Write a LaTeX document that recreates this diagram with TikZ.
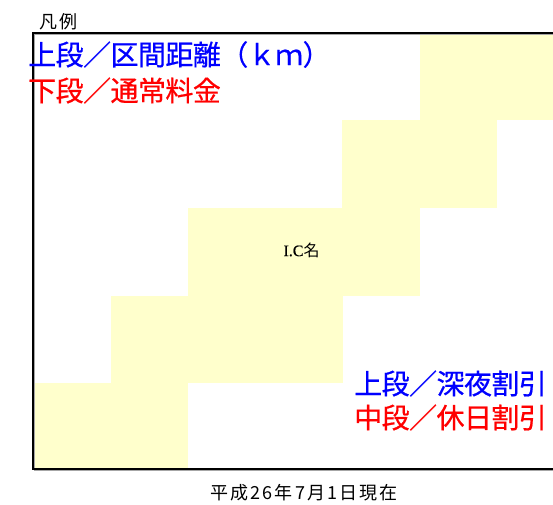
\documentclass[tikz,border=0pt]{standalone}
\usepackage{fontspec}
\newfontfamily\jp[FakeBold=0.6,LetterSpace=-2]{Noto Sans CJK JP}
\newfontfamily\jpsmall[LetterSpace=12]{Noto Sans CJK JP}
\newfontfamily\ser[FakeBold=0.5]{Liberation Serif}
\newfontfamily\jpplain{Noto Sans CJK JP}
\definecolor{cellyellow}{HTML}{FFFFCC}
\definecolor{lblblue}{HTML}{0000FF}
\definecolor{lblred}{HTML}{FF0000}
\tikzset{
  cell/.style={fill=cellyellow},
  frameline/.style={draw=black, line width=1.5pt},
  frameshadow/.style={draw=black!35, line width=1pt},
  biglabel/.style={font=\jp\fontsize{28}{28}\selectfont, inner sep=0pt, anchor=west},
  smalllabel/.style={font=\jpsmall\fontsize{18}{18}\selectfont, inner sep=0pt, text=black},
}
\begin{document}
\begin{tikzpicture}[x=1pt,y=-1pt]
\useasboundingbox (0,0) rectangle (553,504);
% staircase cells
\fill[cell] (420,33) rectangle (553,120);
\fill[cell] (342,120) rectangle (497,207.5);
\fill[cell] (188,207.5) rectangle (420,295.5);
\fill[cell] (111,295.5) rectangle (343,382.5);
\fill[cell] (34,382.5) rectangle (188,469);
% frame
\draw[frameshadow] (553,34.5) -- (34.5,34.5) -- (34.5,470.5) -- (553,470.5);
\draw[frameline] (553,33) -- (33,33) -- (33,469) -- (553,469);
% texts
\node[smalllabel, anchor=west] (legend) at (39,21.5) {凡例};
\node[biglabel, text=lblblue] (upper) at (28,54.5) {上段／区間距離（ｋｍ）};
\node[biglabel, text=lblred] (lower) at (28,90.5) {下段／通常料金};
\node[inner sep=0pt, font=\fontsize{16}{16}\selectfont] (ic) at (301.5,250) {{\ser I.C}{\jpplain 名}};
\node[biglabel, text=lblblue] (night) at (354,383.5) {上段／深夜割引};
\node[biglabel, text=lblred] (holiday) at (354,417.5) {中段／休日割引};
\node[smalllabel] (date) at (304,493) {平成26年7月1日現在};
\end{tikzpicture}
\end{document}
